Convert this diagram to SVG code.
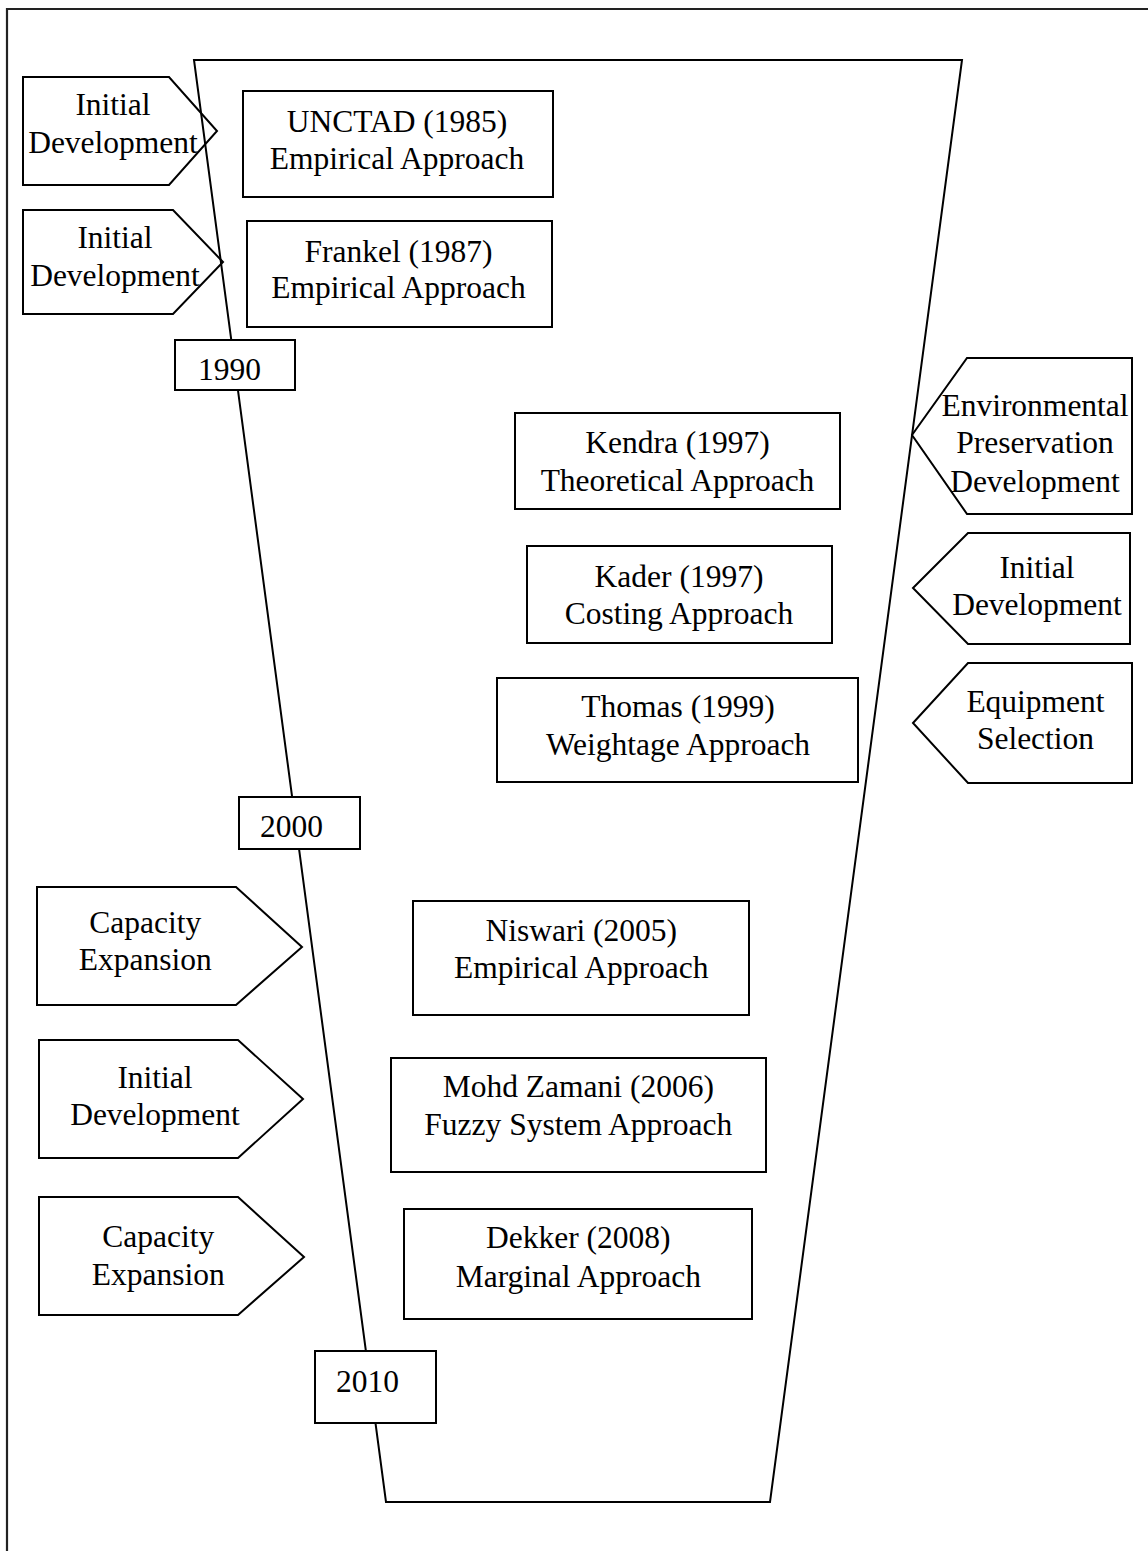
<svg xmlns="http://www.w3.org/2000/svg" width="1148" height="1551" viewBox="0 0 1148 1551">
<style>
  .ln{fill:none;stroke:#000;stroke-width:2;stroke-linejoin:miter}
  .box{fill:#fff;stroke:#000;stroke-width:2}
  .arr{fill:none;stroke:#000;stroke-width:2;stroke-linejoin:miter}
  .t{font-family:'Liberation Serif',serif;font-size:31.5px;fill:#000}
  .c{text-anchor:middle}
</style>
<rect width="1148" height="1551" fill="#fff"/>
<path d="M1148,9 H7 V1551" fill="none" stroke="#222" stroke-width="2.2"/>
<g id="connectors">
  <polygon id="timeline-frame" class="ln" points="194,60 962,60 770,1502 386,1502"/>
</g>
<g class="t" font-family="Liberation Serif, serif">
<g id="arrow-initial-1">
  <polygon class="arr" points="23,77 169,77 217,131 169,185 23,185"/>
  <text class="c" x="113" y="115">Initial</text>
  <text class="c" x="113" y="153">Development</text>
</g>
<g id="arrow-initial-2">
  <polygon class="arr" points="23,210 173,210 223,262 173,314 23,314"/>
  <text class="c" x="115" y="248">Initial</text>
  <text class="c" x="115" y="286">Development</text>
</g>
<g id="box-unctad">
  <rect class="box" x="243" y="91" width="310" height="106"/>
  <text class="c" x="397" y="131.5">UNCTAD (1985)</text>
  <text class="c" x="397" y="169">Empirical Approach</text>
</g>
<g id="box-frankel">
  <rect class="box" x="247" y="221" width="305" height="106"/>
  <text class="c" x="398.5" y="261.5">Frankel (1987)</text>
  <text class="c" x="398.5" y="298">Empirical Approach</text>
</g>
<g id="year-1990">
  <rect class="box" x="175" y="340" width="120" height="50"/>
  <text x="198" y="380">1990</text>
</g>
<g id="box-kendra">
  <rect class="box" x="515" y="413" width="325" height="96"/>
  <text class="c" x="677.5" y="453">Kendra (1997)</text>
  <text class="c" x="677.5" y="490.5">Theoretical Approach</text>
</g>
<g id="box-kader">
  <rect class="box" x="527" y="546" width="305" height="97"/>
  <text class="c" x="679" y="586.5">Kader (1997)</text>
  <text class="c" x="679" y="624">Costing Approach</text>
</g>
<g id="box-thomas">
  <rect class="box" x="497" y="678" width="361" height="104"/>
  <text class="c" x="678" y="716.5">Thomas (1999)</text>
  <text class="c" x="678" y="755">Weightage Approach</text>
</g>
<g id="arrow-environmental">
  <polygon class="arr" points="912,435 967,358 1132,358 1132,514 967,514"/>
  <text class="c" x="1035" y="416">Environmental</text>
  <text class="c" x="1035" y="453.3">Preservation</text>
  <text class="c" x="1035" y="491.7">Development</text>
</g>
<g id="arrow-initial-right">
  <polygon class="arr" points="913,588 968,533 1130,533 1130,644 968,644"/>
  <text class="c" x="1037" y="578.3">Initial</text>
  <text class="c" x="1037" y="615">Development</text>
</g>
<g id="arrow-equipment">
  <polygon class="arr" points="913,723 968,663 1132,663 1132,783 968,783"/>
  <text class="c" x="1035.5" y="711.7">Equipment</text>
  <text class="c" x="1035.5" y="749.3">Selection</text>
</g>
<g id="year-2000">
  <rect class="box" x="239" y="797" width="121" height="52"/>
  <text x="260" y="836.7">2000</text>
</g>
<g id="arrow-capacity-1">
  <polygon class="arr" points="37,887 236,887 302,947 236,1005 37,1005"/>
  <text class="c" x="145.3" y="932.7">Capacity</text>
  <text class="c" x="145.3" y="970">Expansion</text>
</g>
<g id="arrow-initial-3">
  <polygon class="arr" points="39,1040 238,1040 303,1099 238,1158 39,1158"/>
  <text class="c" x="155" y="1087.7">Initial</text>
  <text class="c" x="155" y="1125">Development</text>
</g>
<g id="arrow-capacity-2">
  <polygon class="arr" points="39,1197 238,1197 304,1257 238,1315 39,1315"/>
  <text class="c" x="158.3" y="1247.3">Capacity</text>
  <text class="c" x="158.3" y="1285">Expansion</text>
</g>
<g id="box-niswari">
  <rect class="box" x="413" y="901" width="336" height="114"/>
  <text class="c" x="581.3" y="941">Niswari (2005)</text>
  <text class="c" x="581.3" y="977.7">Empirical Approach</text>
</g>
<g id="box-mohd-zamani">
  <rect class="box" x="391" y="1058" width="375" height="114"/>
  <text class="c" x="578.3" y="1096.7">Mohd Zamani (2006)</text>
  <text class="c" x="578.3" y="1135">Fuzzy System Approach</text>
</g>
<g id="box-dekker">
  <rect class="box" x="404" y="1209" width="348" height="110"/>
  <text class="c" x="578.3" y="1248.3">Dekker (2008)</text>
  <text class="c" x="578.3" y="1286.7">Marginal Approach</text>
</g>
<g id="year-2010">
  <rect class="box" x="315" y="1351" width="121" height="72"/>
  <text x="336" y="1391.7">2010</text>
</g>
</g>
</svg>
